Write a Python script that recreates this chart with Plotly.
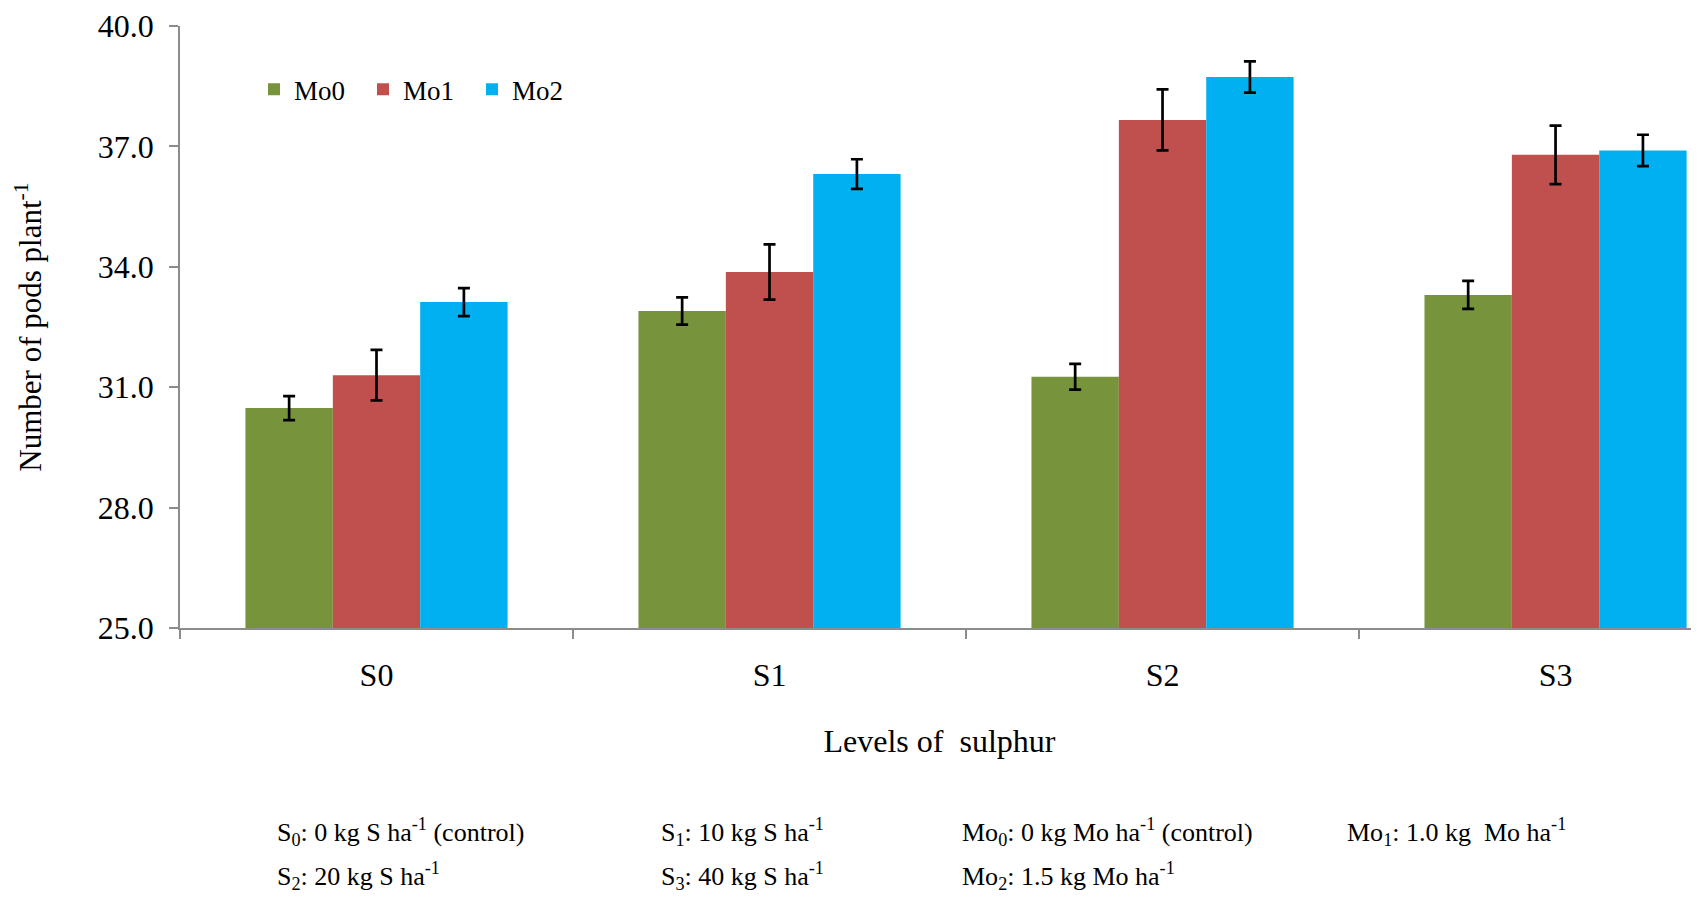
import plotly.graph_objects as go

categories = ["S0", "S1", "S2", "S3"]
series_names = ["Mo0", "Mo1", "Mo2"]
mo0 = [30.48, 32.90, 31.26, 33.30]
mo1 = [31.30, 33.87, 37.66, 36.79]
mo2 = [33.12, 36.31, 38.73, 36.90]
err_mo0 = [0.30, 0.34, 0.32, 0.35]
err_mo1 = [0.63, 0.69, 0.76, 0.73]
err_mo2 = [0.35, 0.37, 0.39, 0.39]
colors = ["#77933C", "#C0504D", "#00B0F0"]
y_ticks = [25, 28, 31, 34, 37, 40]

notes = [
    ("S<sub>0</sub>: 0 kg S ha<sup>-1</sup> (control)", 275, 832),
    ("S<sub>1</sub>: 10 kg S ha<sup>-1</sup>", 659, 832),
    ("Mo<sub>0</sub>: 0 kg Mo ha<sup>-1</sup> (control)", 960, 832),
    ("Mo<sub>1</sub>: 1.0 kg  Mo ha<sup>-1</sup>", 1345, 832),
    ("S<sub>2</sub>: 20 kg S ha<sup>-1</sup>", 275, 876),
    ("S<sub>3</sub>: 40 kg S ha<sup>-1</sup>", 659, 876),
    ("Mo<sub>2</sub>: 1.5 kg Mo ha<sup>-1</sup>", 960, 876),
]

OFF = 8  # page body margin
W, H = 1699 - OFF, 898 - OFF
L, R, T, B = 180 - OFF, 0, 26 - OFF, 898 - 628
PW, PH = W - L - R, H - T - B

fig = go.Figure()
for name, vals, errs, col in zip(series_names, [mo0, mo1, mo2], [err_mo0, err_mo1, err_mo2], colors):
    fig.add_trace(go.Bar(
        x=categories, y=vals, name=name, marker=dict(color=col, line=dict(width=0)),
        error_y=dict(type="data", array=errs, visible=True, color="black", thickness=2.7, width=6),
    ))

font_family = "Liberation Serif, Times New Roman, serif"
fig.update_layout(
    width=W, height=H,
    margin=dict(l=L, r=R, t=T, b=B, autoexpand=False),
    paper_bgcolor="white", plot_bgcolor="white",
    barmode="group", bargap=0.333, bargroupgap=0,
    font=dict(family=font_family, color="black", size=32),
    showlegend=True,
    legend=dict(orientation="h", x=(254 - OFF - L) / PW, y=0.935, xanchor="left", yanchor="top",
                font=dict(size=27, family=font_family), entrywidth=64, entrywidthmode="pixels",
                bgcolor="rgba(0,0,0,0)", itemwidth=30),
    xaxis=dict(
        range=[-0.5, 3.365], showline=True, linecolor="#8C8C8C", linewidth=1.5,
        ticks="outside", tickson="boundaries", ticklen=9, tickcolor="#8C8C8C", tickwidth=1.5,
        tickfont=dict(size=32), showgrid=False, zeroline=False, automargin=False,
        ticklabelstandoff=18,
        title=dict(text="Levels of  sulphur", font=dict(size=32), standoff=37),
    ),
    yaxis=dict(
        range=[25, 40], tickvals=y_ticks, tickformat=".1f", showline=True, linecolor="#8C8C8C",
        linewidth=1.5, ticks="outside", ticklen=9, tickcolor="#8C8C8C", tickwidth=1.5,
        tickfont=dict(size=32), showgrid=False, zeroline=False, automargin=False,
        ticklabelstandoff=9,
        title=dict(text="Number of pods plant<sup>-1</sup>", font=dict(size=31), standoff=47),
    ),
)

for text, px, py in notes:
    fig.add_annotation(
        text=text, xref="paper", yref="paper",
        x=(px - OFF - L) / PW, y=(H - B - (py - OFF)) / PH,
        xanchor="left", yanchor="middle", showarrow=False,
        font=dict(size=26, family=font_family, color="black"),
    )

fig.write_html("out.html")
